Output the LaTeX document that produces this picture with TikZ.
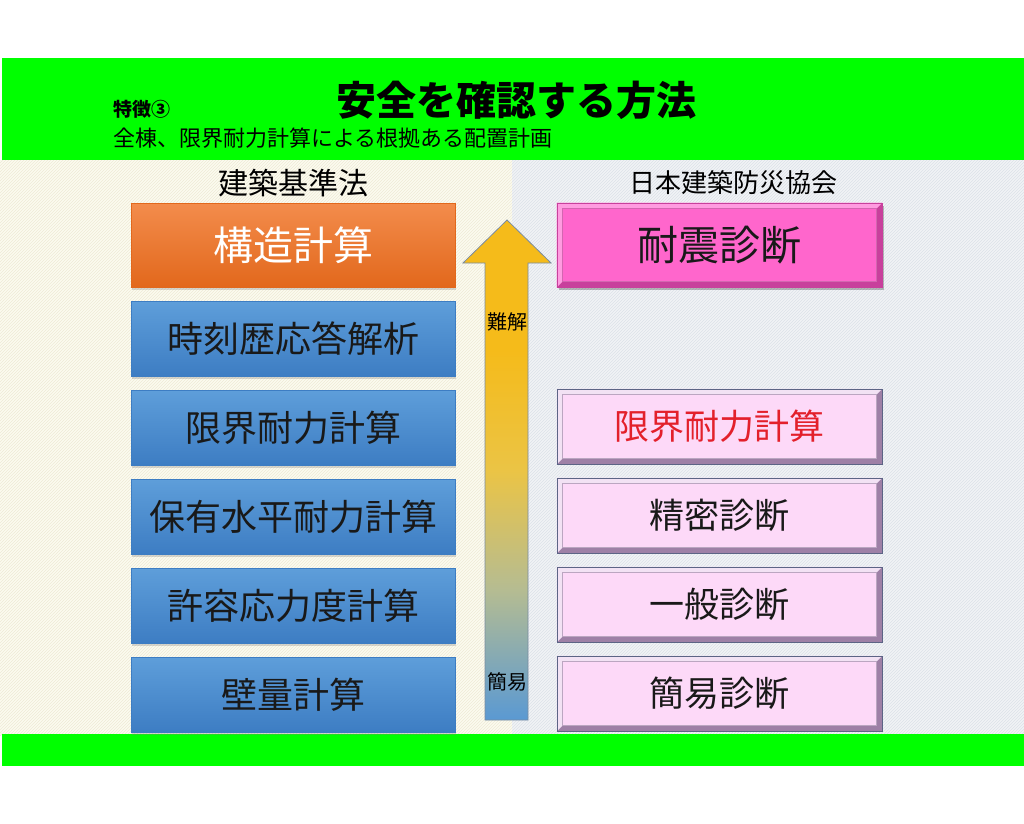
\documentclass[tikz,border=0pt]{standalone}
\usepackage{fontspec}
\setmainfont{Noto Sans CJK JP}
\usetikzlibrary{shadows,patterns}
\definecolor{grn}{HTML}{00FF00}
\definecolor{leftbg}{HTML}{FCFBF0}
\definecolor{lefthatch}{HTML}{EEEAD6}
\definecolor{rightbg}{HTML}{F1F3F6}
\definecolor{righthatch}{HTML}{DCE1E8}
\definecolor{blueT}{HTML}{5E9EDA}
\definecolor{blueB}{HTML}{3D7DC3}
\definecolor{orgT}{HTML}{F38C4C}
\definecolor{orgB}{HTML}{E2681C}
\definecolor{magFace}{HTML}{FF66CC}
\definecolor{magLight}{HTML}{FF9BE0}
\definecolor{magDark}{HTML}{C8409C}
\definecolor{pinkFace}{HTML}{FDD9F8}
\definecolor{pinkLight}{HTML}{F2E2F4}
\definecolor{pinkDark}{HTML}{9E80A6}
\definecolor{frameC}{HTML}{5C6485}
\definecolor{redT}{HTML}{E3202B}
\definecolor{aT}{HTML}{F5BB1A}
\definecolor{aM2}{HTML}{EBC445}
\definecolor{aM1}{HTML}{B5BC92}
\definecolor{aB}{HTML}{5A99D3}
\definecolor{arrowLine}{HTML}{7A8CA0}
\pgfdeclareverticalshading{arrowshade}{100bp}{color(0bp)=(aB); color(25bp)=(aB); color(38bp)=(aM1); color(50bp)=(aM2); color(62bp)=(aT); color(75bp)=(aT); color(100bp)=(aT)}
\pgfdeclarelayer{bg}
\pgfdeclarelayer{mid}
\pgfsetlayers{bg,mid,main}
\newcommand\bevelbox[5]{%
  \begin{pgfonlayer}{mid}
    \fill[#2] (#1.north west) rectangle (#1.south east);
    \fill[#3] (#1.north west) -- (#1.north east) -- ([shift={(-6pt,-6pt)}]#1.north east)
      -- ([shift={(6pt,-6pt)}]#1.north west) -- ([shift={(6pt,6pt)}]#1.south west)
      -- (#1.south west) -- cycle;
    \filldraw[fill=#4, draw=#5, line width=0.6pt] ([shift={(6pt,-6pt)}]#1.north west) rectangle ([shift={(-6pt,6pt)}]#1.south east);
  \end{pgfonlayer}}
\begin{document}
\begin{tikzpicture}[x=1pt,y=-1pt,
  lbox/.style={minimum width=324pt, minimum height=75pt, inner sep=0pt,
    top color=blueT, bottom color=blueB, draw=blueB, line width=0.4pt,
    font=\fontsize{36}{40}\selectfont, text=black!90,
    drop shadow={shadow xshift=1pt, shadow yshift=-3pt, opacity=0.3}},
  obox/.style={lbox, minimum height=84pt, top color=orgT, bottom color=orgB, draw=orgB,
    font=\fontsize{40}{44}\selectfont, text=white},
  rbox/.style={minimum width=325pt, minimum height=75pt, inner sep=0pt,
    draw=frameC, line width=0.6pt, font=\fontsize{35}{40}\selectfont, text=black!90},
  mbox/.style={rbox, minimum height=84pt, draw=magDark, font=\fontsize{41}{46}\selectfont},
  head/.style={inner sep=0pt, text=black}
]
\useasboundingbox (0,0) rectangle (1024,823);
% panels
\begin{pgfonlayer}{bg}
\fill[white] (0,0) rectangle (1024,823);
\fill[leftbg] (0,160) rectangle (512,735);
\fill[pattern=north east lines, pattern color=lefthatch] (0,160) rectangle (512,735);
\fill[rightbg] (512,160) rectangle (1024,735);
\fill[pattern=north east lines, pattern color=righthatch] (512,160) rectangle (1024,735);
\fill[grn] (2,58) rectangle (1024,160);
\fill[grn] (2,734) rectangle (1024,766);
\end{pgfonlayer}
% header texts
\node[head, font=\fontsize{40}{44}\selectfont\bfseries] (title) at (516,100) {安全を確認する方法};
\node[head, anchor=west, font=\fontsize{19}{21}\selectfont\bfseries] (feat) at (113,109) {特徴③};
\node[head, anchor=west, font=\fontsize{22}{24}\selectfont] (sub) at (113,138) {全棟、限界耐力計算による根拠ある配置計画};
\node[head, font=\fontsize{30}{34}\selectfont] (lawh) at (293,183) {建築基準法};
\node[head, font=\fontsize{26}{30}\selectfont] (assoc) at (733,183) {日本建築防災協会};
% left column
\node[obox] (L0) at (293,245) {構造計算};
\node[lbox] (L1) at (293,338.5) {時刻歴応答解析};
\node[lbox] (L2) at (293,427.5) {限界耐力計算};
\node[lbox] (L3) at (293,516.5) {保有水平耐力計算};
\node[lbox] (L4) at (293,605.5) {許容応力度計算};
\node[lbox] (L5) at (293,694.5) {壁量計算};
% arrow
\shade[shading=arrowshade, draw=arrowLine, line width=0.8pt]
  (507,220) -- (551,263) -- (528,263) -- (528,720) -- (485,720) -- (485,263) -- (463,263) -- cycle;
\node[head, font=\fontsize{20}{22}\selectfont] (hard) at (507,322) {難解};
\node[head, font=\fontsize{20}{22}\selectfont] (easy) at (507,682) {簡易};
% right column
\node[mbox] (R0) at (719.5,245) {耐震診断};
\begin{pgfonlayer}{mid}
\fill[black, opacity=0.25] ([shift={(2pt,-3pt)}]R0.north west) rectangle ([shift={(2pt,-3pt)}]R0.south east);
\end{pgfonlayer}
\bevelbox{R0}{magDark}{magLight}{magFace}{magDark!80}
\node[rbox, text=redT] (R1) at (719.5,426.5) {限界耐力計算};
\bevelbox{R1}{pinkDark}{pinkLight}{pinkFace}{pinkDark!70}
\node[rbox] (R2) at (719.5,515.5) {精密診断};
\bevelbox{R2}{pinkDark}{pinkLight}{pinkFace}{pinkDark!70}
\node[rbox] (R3) at (719.5,604.5) {一般診断};
\bevelbox{R3}{pinkDark}{pinkLight}{pinkFace}{pinkDark!70}
\node[rbox] (R4) at (719.5,693.5) {簡易診断};
\bevelbox{R4}{pinkDark}{pinkLight}{pinkFace}{pinkDark!70}
\end{tikzpicture}
\end{document}
